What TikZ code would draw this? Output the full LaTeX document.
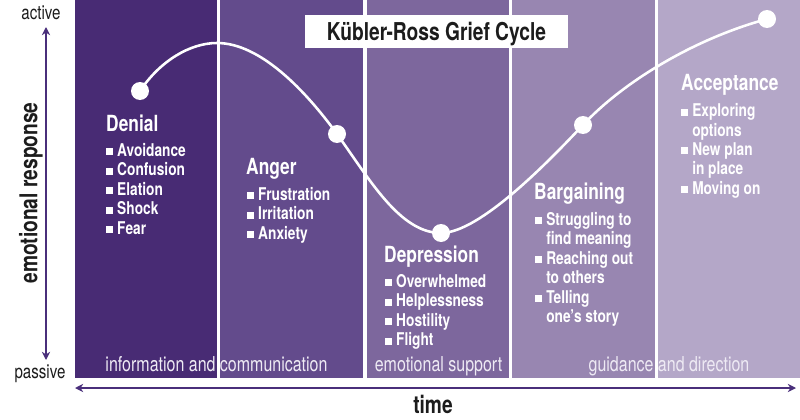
\documentclass[tikz,border=0pt]{standalone}
\usepackage{fontspec}
\setmainfont{TeX Gyre Heros}[FakeStretch=0.78]
\usepackage{tikz}
\usetikzlibrary{arrows.meta}
\definecolor{griefa}{HTML}{482B74}
\definecolor{griefb}{HTML}{634B8C}
\definecolor{griefc}{HTML}{7D679D}
\definecolor{griefd}{HTML}{9886B1}
\definecolor{griefe}{HTML}{B4A7C8}
\definecolor{axispurple}{HTML}{4A2F7B}
\definecolor{inktext}{HTML}{1C1C1C}
\definecolor{phasetext}{HTML}{EEEAF4}
\newcommand{\itemsq}{\raisebox{0.8pt}{\rule{6pt}{6pt}}\hspace{3.4pt}}
\newcommand{\itemin}{\hspace{9.4pt}}

\begin{document}
\begin{tikzpicture}[x=0.03cm,y=-0.03cm,
  head/.style={anchor=base west,inner sep=0pt,text=white,font=\bfseries\fontsize{19}{22}\selectfont},
  item/.style={anchor=base west,inner sep=0pt,text=white,font=\bfseries\fontsize{15}{18}\selectfont},
  phase/.style={anchor=base,inner sep=0pt,text=phasetext,font=\fontsize{17.5}{20}\selectfont},
  axlab/.style={anchor=base,inner sep=0pt,text=inktext,font=\fontsize{16.5}{19}\selectfont},
  axtitle/.style={inner sep=0pt,text=inktext,font=\bfseries\fontsize{21}{24}\selectfont},
  dot/.style={circle,fill=white,inner sep=0pt,minimum size=0.54cm},
  axis/.style={axispurple,line width=2pt,{Stealth[length=7pt,width=7pt]}-{Stealth[length=7pt,width=7pt]}}]
  \useasboundingbox (0,0) rectangle (800,420);
  % stage panels
  \foreach \pl/\pr/\pc in {75/217/griefa,220/363/griefb,366.5/508.5/griefc,512/654.5/griefd,657.5/800/griefe}
    \fill[\pc] (\pl,0) rectangle (\pr,378);
  \node[fill=white,minimum width=7.89cm,minimum height=0.99cm] (ttlbox) at (436.5,31.5) {};
  \node[anchor=base,inner sep=0pt,text=inktext,font=\bfseries\fontsize{21}{24}\selectfont] (ttl) at (436.5,40) {Kübler-Ross Grief Cycle};
  % the cycle curve
  \node[dot] (d1) at (140,91) {};
  \node[dot] (d2) at (337,134) {};
  \node[dot] (d3) at (441,233) {};
  \node[dot] (d4) at (583,125) {};
  \node[dot] (d5) at (767,19) {};
  \coordinate (pk) at (217,43);
  \draw[white,line width=2.2pt] (d1.center) .. controls +(20,-30) and +(-27,0) .. (pk)
    .. controls +(43,0) and +(-32,-44) .. (d2.center)
    .. controls +(33,46) and +(-41,0) .. (d3.center)
    .. controls +(39,0) and +(-33,35) .. (d4.center)
    .. controls +(37,-40) and +(-77,21) .. (d5.center);
  % stage texts
  \node[head] (hden) at (106,131) {Denial};
  \foreach \tt [count=\k] in {Avoidance,Confusion,Elation,Shock,Fear}
    \node[item] (den\k) at (106,{136.5+19.5*\k}) {\itemsq\tt};
  \node[head] (hang) at (246,174) {Anger};
  \foreach \tt [count=\k] in {Frustration,Irritation,Anxiety}
    \node[item] (ang\k) at (247,{180.5+19.5*\k}) {\itemsq\tt};
  \node[head] (hdep) at (384,262) {Depression};
  \foreach \tt [count=\k] in {Overwhelmed,Helplessness,Hostility,Flight}
    \node[item] (dep\k) at (385,{267.5+19.5*\k}) {\itemsq\tt};
  \node[head] (hbar) at (534,199) {Bargaining};
  \foreach \tt [count=\k] in {{\itemsq Struggling to},{\itemin find meaning},{\itemsq Reaching out},
                              {\itemin to others},{\itemsq Telling},{\itemin one's story}}
    \node[item] (bar\k) at (535,{205.5+19.5*\k}) {\tt};
  \node[head] (hacc) at (681,90) {Acceptance};
  \foreach \tt [count=\k] in {{\itemsq Exploring},{\itemin options},{\itemsq New plan},
                              {\itemin in place},{\itemsq Moving on}}
    \node[item] (acc\k) at (681,{97.5+19.3*\k}) {\tt};
  \node[phase] (ph1) at (216.5,371) {information and communication};
  \node[phase] (ph2) at (438.5,371) {emotional support};
  \node[phase] (ph3) at (669,371) {guidance and direction};
  % axes
  \coordinate (vtop) at (46,27);
  \coordinate (vbot) at (46,360);
  \coordinate (tleft) at (75,388);
  \coordinate (tright) at (796,388);
  \draw[axis] (vbot) -- (vtop);
  \draw[axis,line width=2.3pt] (tleft) -- (tright);
  \node[axlab] (act) at (41,20) {active};
  \node[axlab] (pas) at (40,378) {passive};
  \node[axtitle,rotate=90] (emo) at (31,193) {emotional response};
  \node[axtitle,anchor=base] (tim) at (433,413) {time};
\end{tikzpicture}
\end{document}
